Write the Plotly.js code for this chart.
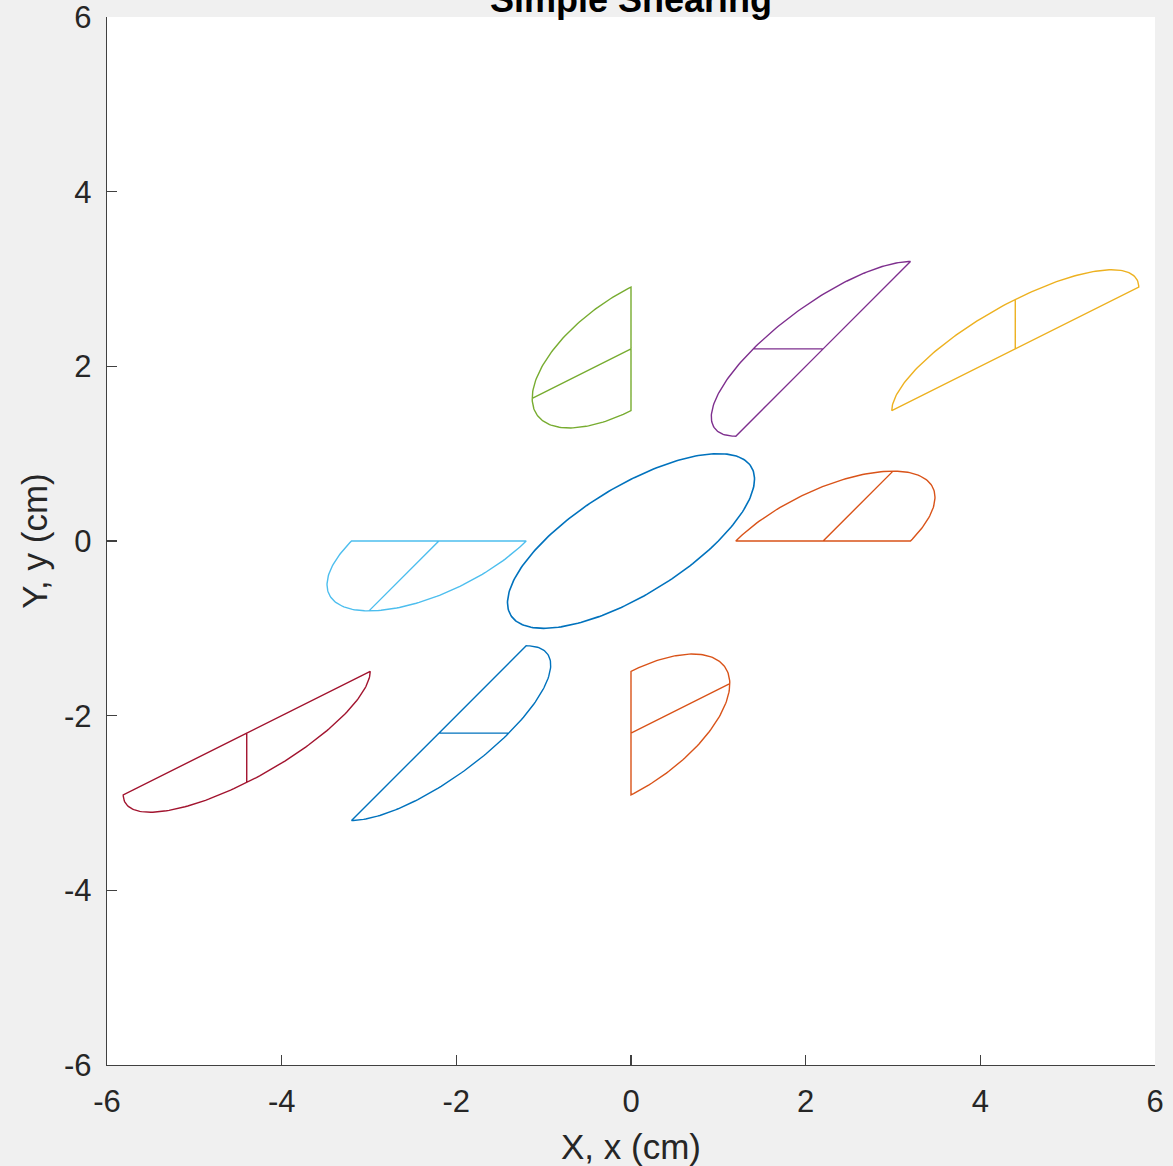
<!DOCTYPE html>
<html>
<head>
<meta charset="utf-8">
<script src="https://cdn.plot.ly/plotly-3.0.1.min.js"></script>
<style>
  html, body { margin: 0; padding: 0; background: #F0F0F0; }
  #chart { width: 1173px; height: 1166px; }
</style>
</head>
<body>
<div id="chart"></div>
<script>
// ---- Values ----
const shearGamma = 1.0;            // simple shear: x' = x + gamma * y
const circleRadius = 1.0;          // central circle (drawn sheared)
const halfAxisAlong = 1.0;         // half-length of each half-ellipse's flat side
const halfAxisAcross = 0.8;        // height of each half-ellipse
// undeformed centres of the eight half-ellipses
const centerX = [2.2, 2.2, 0.0, -2.2, -2.2, -2.2, 0.0, 2.2];
const centerY = [0.0, 2.2, 2.2, 2.2, 0.0, -2.2, -2.2, -2.2];
// orientation of each half-ellipse (degrees)
const rotationDeg = [0, 45, 90, 135, 180, 225, 270, 315];
const shapeColors = ['#D95319', '#EDB120', '#7E2F8E', '#77AC30', '#4DBEEE', '#A2142F', '#0072BD', '#D95319'];
const circleColor = '#0072BD';
const tickValues = [-6, -4, -2, 0, 2, 4, 6];
const tickLabels = ['-6', '-4', '-2', '0', '2', '4', '6'];
const chartTitle = 'Simple Shearing';
const arcSteps = 120;

function shear(x, y) { return [x + shearGamma * y, y]; }

const traces = [];

// central sheared circle
(function () {
  const xs = [], ys = [];
  for (let i = 0; i <= arcSteps * 2; i++) {
    const t = 2 * Math.PI * i / (arcSteps * 2);
    const p = shear(circleRadius * Math.cos(t), circleRadius * Math.sin(t));
    xs.push(p[0]); ys.push(p[1]);
  }
  traces.push({ x: xs, y: ys, type: 'scatter', mode: 'lines',
    line: { color: circleColor, width: 1.6 }, hoverinfo: 'skip' });
})();

// half-ellipses with a radius line, then sheared
for (let k = 0; k < centerX.length; k++) {
  const th = rotationDeg[k] * Math.PI / 180;
  const c = Math.cos(th), s = Math.sin(th);
  const local = [[0, 0], [halfAxisAlong, 0]];
  for (let i = 0; i <= arcSteps; i++) {
    const t = Math.PI * i / arcSteps;
    local.push([halfAxisAlong * Math.cos(t), halfAxisAcross * Math.sin(t)]);
  }
  local.push([0, 0]);
  local.push([0, halfAxisAcross]);
  const xs = [], ys = [];
  local.forEach(function (p) {
    const rx = p[0] * c - p[1] * s + centerX[k];
    const ry = p[0] * s + p[1] * c + centerY[k];
    const q = shear(rx, ry);
    xs.push(q[0]); ys.push(q[1]);
  });
  traces.push({ x: xs, y: ys, type: 'scatter', mode: 'lines',
    line: { color: shapeColors[k], width: 1.4 }, hoverinfo: 'skip' });
}

const fontFamily = 'Liberation Sans, Arial, Helvetica, sans-serif';
const axisCommon = {
  range: [-6, 6],
  tickmode: 'array',
  tickvals: tickValues,
  ticktext: tickLabels,
  ticks: 'inside',
  ticklen: 10,
  tickwidth: 1.3,
  tickcolor: '#404040',
  showline: true,
  linecolor: '#404040',
  linewidth: 1.3,
  mirror: false,
  showgrid: false,
  zeroline: false,
  ticklabeloverflow: 'allow',
  tickfont: { family: fontFamily, size: 31, color: '#262626' },
  fixedrange: true
};

const layout = {
  width: 1173,
  height: 1166,
  paper_bgcolor: '#F0F0F0',
  plot_bgcolor: '#FFFFFF',
  showlegend: false,
  hovermode: false,
  margin: { l: 107, r: 18, t: 17, b: 101, pad: 0 },
  annotations: [{
    text: '<b>' + chartTitle + '</b>',
    font: { family: fontFamily, size: 36, color: '#000000' },
    xref: 'paper', yref: 'paper', x: 0.5, y: 1,
    xanchor: 'center', yanchor: 'bottom', yshift: -4,
    showarrow: false, borderpad: 0
  }],
  xaxis: Object.assign({}, axisCommon, {
    ticklabelstandoff: 8,
    title: { text: 'X, x (cm)', font: { family: fontFamily, size: 35, color: '#262626' }, standoff: 17 }
  }),
  yaxis: Object.assign({}, axisCommon, {
    ticklabelstandoff: 8,
    title: { text: 'Y, y (cm)', font: { family: fontFamily, size: 35, color: '#262626' }, standoff: 5 }
  })
};

Plotly.newPlot('chart', traces, layout, { displayModeBar: false, staticPlot: true });
</script>
</body>
</html>
